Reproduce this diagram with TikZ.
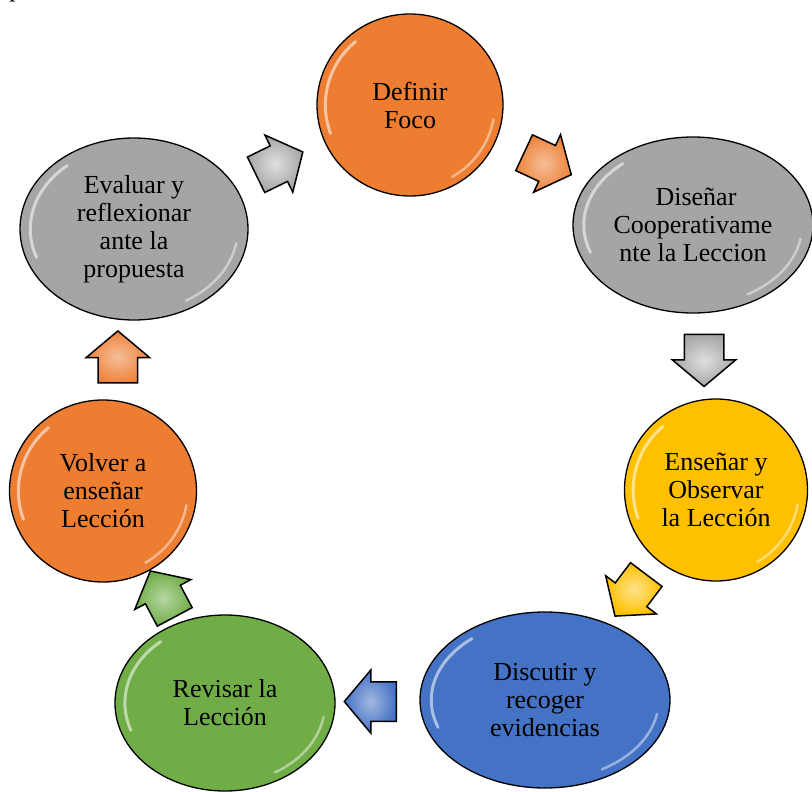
\documentclass[tikz,border=0pt]{standalone}
\usepackage{fontspec}
\setmainfont{Liberation Serif}
\usetikzlibrary{shapes.geometric,shapes.arrows,calc}
\definecolor{corange}{HTML}{ED7D31}
\definecolor{cgray}{HTML}{A5A5A5}
\definecolor{cyellow}{HTML}{FFC000}
\definecolor{cblue}{HTML}{4472C4}
\definecolor{cgreen}{HTML}{70AD47}
\newcommand\glossyrim[3]{%
  \draw[white, line width=3pt, opacity=0.55, line cap=round]
    ($(#1)+(130:{0.91*#2} and {0.91*#3})$) arc[start angle=130, end angle=200, x radius={0.91*#2}, y radius={0.91*#3}];
  \draw[white, line width=2.5pt, opacity=0.45, line cap=round]
    ($(#1)+(-60:{0.91*#2} and {0.91*#3})$) arc[start angle=-60, end angle=-10, x radius={0.91*#2}, y radius={0.91*#3}];
}
\begin{document}
\begin{tikzpicture}[x=1pt,y=1pt,
  stage/.style={ellipse, draw=black, line width=1.3pt, inner sep=0pt, align=center,
    font=\fontsize{26}{28}\selectfont},
  arr/.style={single arrow, draw=black, line width=1.5pt, inner xsep=0pt, inner ysep=19pt,
    minimum height=52pt, minimum width=63pt, single arrow head extend=12pt,
    single arrow tip angle=100, anchor=center}]
\useasboundingbox (0,0) rectangle (812,-792);
\clip (0,0) rectangle (812,-792);
\fill[white] (0,0) rectangle (812,-792);
\node[font=\fontsize{26}{28}\selectfont\itshape, anchor=base west, inner sep=0pt] (pp) at (11,3) {p};

\node[stage, fill=corange, minimum width=186pt, minimum height=182pt] (def) at (410,-105) {Definir\\Foco};
\node[stage, fill=cgray, minimum width=240pt, minimum height=176pt] (dis) at (693,-225) {\hspace*{6pt}Diseñar\\Cooperativame\\nte la Leccion};
\node[stage, fill=cyellow, minimum width=183pt, minimum height=182pt] (ens) at (716,-490) {Enseñar y\\Observar\\la Lección};
\node[stage, fill=cblue, minimum width=250pt, minimum height=176pt] (disc) at (545,-700) {Discutir y\\recoger\\evidencias};
\node[stage, fill=cgreen, minimum width=220pt, minimum height=176pt] (rev) at (225,-703) {Revisar la\\Lección};
\node[stage, fill=corange, minimum width=187pt, minimum height=182pt] (vol) at (103,-491) {Volver a\\enseñar\\Lección};
\node[stage, fill=cgray, minimum width=228pt, minimum height=182pt] (eva) at (134,-229) {Evaluar y\\reflexionar\\ante la\\propuesta};

\glossyrim{def}{93}{91}
\glossyrim{dis}{120}{88}
\glossyrim{ens}{91}{91}
\glossyrim{disc}{125}{88}
\glossyrim{rev}{110}{88}
\glossyrim{vol}{93}{91}
\glossyrim{eva}{114}{91}

\node[arr, rotate=26, inner color=gray!25, outer color=gray!70] (a1) at ($(eva)!0.5!(def)$) {};
\node[arr, rotate=-25, inner color=corange!50!white, outer color=corange!95!white] (a2) at ($(def)!0.46!(dis)$) {};
\node[arr, rotate=-90, inner color=gray!25, outer color=gray!70] (a3) at ($(dis)!0.48!(ens)$) {};
\node[arr, rotate=-127, inner color=cyellow!45!white, outer color=cyellow] (a4) at ($(ens)!0.47!(disc)$) {};
\node[arr, rotate=180, inner color=cblue!50!white, outer color=cblue] (a5) at ($(disc)!0.52!(rev)$) {};
\node[arr, rotate=118, inner color=cgreen!50!white, outer color=cgreen] (a6) at ($(rev)!0.48!(vol)$) {};
\node[arr, rotate=90, inner color=corange!50!white, outer color=corange!95!white] (a7) at ($(vol)!0.48!(eva)$) {};
\end{tikzpicture}
\end{document}
